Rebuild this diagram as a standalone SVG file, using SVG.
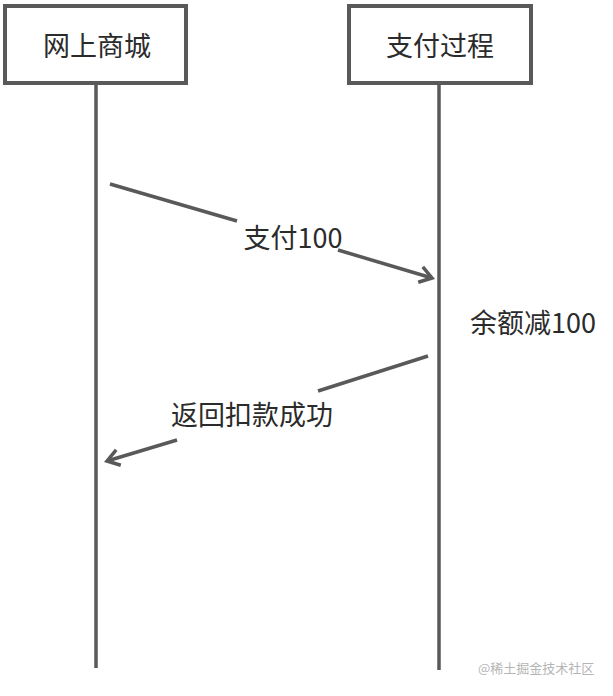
<svg xmlns="http://www.w3.org/2000/svg" width="613" height="696" viewBox="0 0 613 696">
<style>
.box{fill:#fff;stroke:#595959;stroke-width:4}
.life{stroke:#595959;stroke-width:3.5;fill:none}
.msg{stroke:#595959;stroke-width:3.5;fill:none}
.t{font-family:"Microsoft YaHei","Noto Sans CJK SC","Noto Sans",sans-serif;font-size:27px;fill:#2b2b2b;text-anchor:middle;dominant-baseline:central}
.wm{font-family:"Noto Sans CJK SC",sans-serif;font-size:13px;fill:#b5b5b5}
</style>
<defs>
<marker id="arr" viewBox="0 0 20 20" refX="16" refY="10" markerWidth="20" markerHeight="20" markerUnits="userSpaceOnUse" orient="auto">
<path d="M4,2 L16,10 L4,18" fill="none" stroke="#595959" stroke-width="3.5"/>
</marker>
</defs>
<rect width="613" height="696" fill="#fff"/>
<g id="lifelines">
<line class="life" x1="96" y1="83" x2="96" y2="668"/>
<line class="life" x1="439" y1="83" x2="439" y2="670"/>
</g>
<g id="node-shop">
<rect class="box" x="5" y="6" width="181" height="77"/>
<text class="t" x="97" y="44">网上商城</text>
</g>
<g id="node-pay">
<rect class="box" x="349" y="6" width="182" height="77"/>
<text class="t" x="440" y="44">支付过程</text>
</g>
<g id="connectors">
<line class="msg" x1="110" y1="184" x2="237" y2="221"/>
<line class="msg" x1="338" y1="250" x2="432" y2="278" marker-end="url(#arr)"/>
<line class="msg" x1="428" y1="356" x2="318" y2="391"/>
<line class="msg" x1="177" y1="440" x2="107" y2="461" marker-end="url(#arr)"/>
</g>
<g id="labels">
<text class="t" x="293" y="236">支付100</text>
<text class="t" x="533" y="321">余额减100</text>
<text class="t" x="252" y="413">返回扣款成功</text>
</g>
<text class="wm" x="478" y="673">@稀土掘金技术社区</text>
</svg>
